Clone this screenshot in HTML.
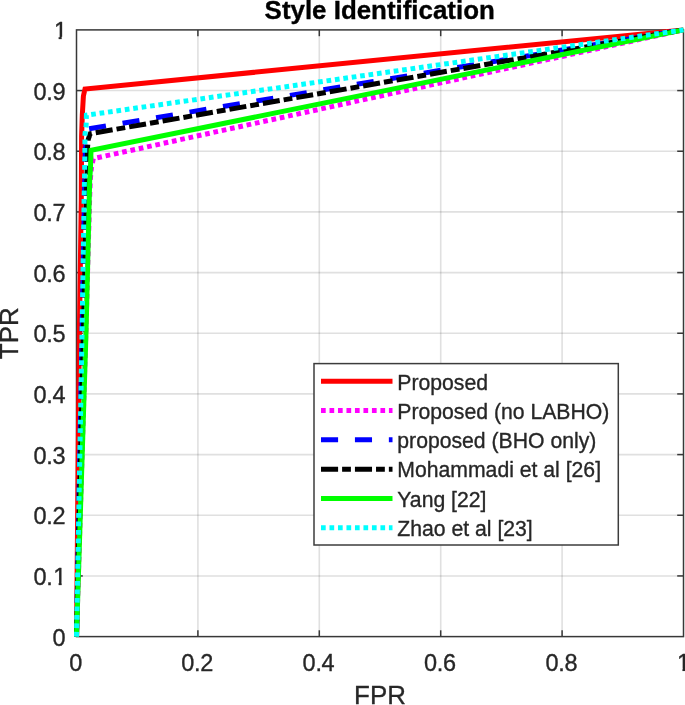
<!DOCTYPE html>
<html lang="en"><head><meta charset="utf-8"><title>Style Identification</title>
<style>html,body{margin:0;padding:0;background:#fff;overflow:hidden}svg{display:block}text{font-family:"Liberation Sans", Arial, Helvetica, sans-serif;fill:#262626;stroke:#2b2b2b;stroke-width:0.35px;stroke-linejoin:round}</style></head><body>
<svg width="685" height="705" viewBox="0 0 685 705">
<rect x="0" y="0" width="685" height="705" fill="#ffffff"/>
<g stroke="#262626" stroke-opacity="0.14" stroke-width="1.6" fill="none"><line x1="76.50" y1="575.93" x2="683.50" y2="575.93"/><line x1="76.50" y1="515.26" x2="683.50" y2="515.26"/><line x1="76.50" y1="454.59" x2="683.50" y2="454.59"/><line x1="76.50" y1="393.92" x2="683.50" y2="393.92"/><line x1="76.50" y1="333.25" x2="683.50" y2="333.25"/><line x1="76.50" y1="272.58" x2="683.50" y2="272.58"/><line x1="76.50" y1="211.91" x2="683.50" y2="211.91"/><line x1="76.50" y1="151.24" x2="683.50" y2="151.24"/><line x1="76.50" y1="90.57" x2="683.50" y2="90.57"/><line x1="197.90" y1="29.90" x2="197.90" y2="636.60"/><line x1="319.30" y1="29.90" x2="319.30" y2="636.60"/><line x1="440.70" y1="29.90" x2="440.70" y2="636.60"/><line x1="562.10" y1="29.90" x2="562.10" y2="636.60"/></g>
<g stroke="#383838" stroke-width="1.5" fill="none"><line x1="76.50" y1="575.93" x2="82.80" y2="575.93"/><line x1="683.50" y1="575.93" x2="677.20" y2="575.93"/><line x1="76.50" y1="515.26" x2="82.80" y2="515.26"/><line x1="683.50" y1="515.26" x2="677.20" y2="515.26"/><line x1="76.50" y1="454.59" x2="82.80" y2="454.59"/><line x1="683.50" y1="454.59" x2="677.20" y2="454.59"/><line x1="76.50" y1="393.92" x2="82.80" y2="393.92"/><line x1="683.50" y1="393.92" x2="677.20" y2="393.92"/><line x1="76.50" y1="333.25" x2="82.80" y2="333.25"/><line x1="683.50" y1="333.25" x2="677.20" y2="333.25"/><line x1="76.50" y1="272.58" x2="82.80" y2="272.58"/><line x1="683.50" y1="272.58" x2="677.20" y2="272.58"/><line x1="76.50" y1="211.91" x2="82.80" y2="211.91"/><line x1="683.50" y1="211.91" x2="677.20" y2="211.91"/><line x1="76.50" y1="151.24" x2="82.80" y2="151.24"/><line x1="683.50" y1="151.24" x2="677.20" y2="151.24"/><line x1="76.50" y1="90.57" x2="82.80" y2="90.57"/><line x1="683.50" y1="90.57" x2="677.20" y2="90.57"/><line x1="197.90" y1="636.60" x2="197.90" y2="630.30"/><line x1="197.90" y1="29.90" x2="197.90" y2="36.20"/><line x1="319.30" y1="636.60" x2="319.30" y2="630.30"/><line x1="319.30" y1="29.90" x2="319.30" y2="36.20"/><line x1="440.70" y1="636.60" x2="440.70" y2="630.30"/><line x1="440.70" y1="29.90" x2="440.70" y2="36.20"/><line x1="562.10" y1="636.60" x2="562.10" y2="630.30"/><line x1="562.10" y1="29.90" x2="562.10" y2="36.20"/><rect x="76.50" y="29.90" width="607.00" height="606.70"/></g>
<g fill="none" stroke-width="5.00" stroke-linejoin="miter" stroke-miterlimit="6" stroke-linecap="butt">
<path d="M76.50 636.60 L79.40 330.00 L81.30 200.00 L81.60 136.00 L82.30 115.00 L83.40 96.00 L85.00 89.00 L683.50 29.90" stroke="#ff0000"/>
<path d="M76.50 636.60 L85.90 330.00 L89.60 200.00 L90.30 179.70 L91.40 168.00 L93.30 158.60 L683.50 29.90" stroke="#ff00ff" stroke-dasharray="4.7 3.79" stroke-dashoffset="1.40"/>
<path d="M76.50 636.60 L85.40 150.00 L88.00 129.00 L683.50 29.90" stroke="#0000ff" stroke-dasharray="17.1 16.83" stroke-dashoffset="0.00"/>
<path d="M76.50 636.60 L87.60 146.50 L88.30 139.00 L90.30 133.70 L683.50 29.90" stroke="#000000" stroke-dasharray="17.1 4 8.8 4.03" stroke-dashoffset="0.00"/>
<path d="M76.50 636.60 L86.10 330.00 L89.70 179.70 L90.45 169.00 L91.00 150.40 L683.50 29.90" stroke="#00ff00"/>
<path d="M76.50 636.60 L82.10 330.00 L84.10 200.00 L84.75 165.00 L85.00 134.00 L86.10 125.50 L86.40 115.20 L683.50 29.90" stroke="#00ffff" stroke-dasharray="4.7 3.79" stroke-dashoffset="0.00"/>
</g>
<g font-size="23.50" letter-spacing="-0.3">
<text x="65.30" y="645.60" text-anchor="end">0</text>
<text x="66.00" y="584.93" text-anchor="end" clip-path="url(#cy1)">0.<tspan dx="0.70">1</tspan></text>
<text x="65.30" y="524.26" text-anchor="end">0.2</text>
<text x="65.30" y="463.59" text-anchor="end">0.3</text>
<text x="65.30" y="402.92" text-anchor="end">0.4</text>
<text x="65.30" y="342.25" text-anchor="end">0.5</text>
<text x="65.30" y="281.58" text-anchor="end">0.6</text>
<text x="65.30" y="220.91" text-anchor="end">0.7</text>
<text x="65.30" y="160.24" text-anchor="end">0.8</text>
<text x="65.30" y="99.57" text-anchor="end">0.9</text>
<text x="66.00" y="38.90" text-anchor="end" clip-path="url(#cy10)"><tspan dx="0.70">1</tspan></text>
<text x="75.70" y="670.70" text-anchor="middle">0</text>
<text x="197.10" y="670.70" text-anchor="middle">0.2</text>
<text x="318.50" y="670.70" text-anchor="middle">0.4</text>
<text x="439.90" y="670.70" text-anchor="middle">0.6</text>
<text x="561.30" y="670.70" text-anchor="middle">0.8</text>
<text x="683.40" y="670.70" text-anchor="middle" clip-path="url(#cx1)">1</text>
</g>
<text x="380.00" y="704.20" font-size="25.90" text-anchor="middle">FPR</text>
<text transform="translate(18.30 333.25) rotate(-90)" font-size="25.90" text-anchor="middle">TPR</text>
<text x="379.70" y="19.30" font-size="25.90" font-weight="bold" text-anchor="middle" style="fill:#000;stroke:#000">Style Identification</text>
<defs><clipPath id="cy1"><rect x="13.20" y="560.93" width="40.80" height="32.00"/><rect x="53.20" y="560.93" width="20.00" height="21.79"/><rect x="58.66" y="582.22" width="2.98" height="3.31"/></clipPath><clipPath id="cy10"><rect x="13.20" y="14.90" width="40.80" height="32.00"/><rect x="53.20" y="14.90" width="20.00" height="21.79"/><rect x="58.66" y="36.19" width="2.98" height="3.31"/></clipPath><clipPath id="cx1"><rect x="637.01" y="646.70" width="40.80" height="32.00"/><rect x="677.01" y="646.70" width="20.00" height="21.79"/><rect x="682.47" y="667.99" width="2.98" height="3.31"/></clipPath></defs>
<rect x="314.00" y="363.60" width="304.30" height="181.40" fill="#ffffff" stroke="#3c3c3c" stroke-width="1.5"/>
<g fill="none" stroke-width="5.00">
<line x1="321" y1="381.30" x2="392.5" y2="381.30" stroke="#ff0000"/>
<line x1="321" y1="410.58" x2="392.5" y2="410.58" stroke="#ff00ff" stroke-dasharray="4.7 3.79"/>
<line x1="321" y1="439.86" x2="392.5" y2="439.86" stroke="#0000ff" stroke-dasharray="17.1 16.83"/>
<line x1="321" y1="469.14" x2="392.5" y2="469.14" stroke="#000000" stroke-dasharray="17.1 4 8.8 4.03"/>
<line x1="321" y1="498.42" x2="392.5" y2="498.42" stroke="#00ff00"/>
<line x1="321" y1="527.70" x2="392.5" y2="527.70" stroke="#00ffff" stroke-dasharray="4.7 3.79"/>
</g>
<g font-size="21.20" style="fill:#000;stroke:#000">
<text x="397.3" y="389.50">Proposed</text>
<text x="397.3" y="418.78">Proposed (no LABHO)</text>
<text x="397.3" y="448.06">proposed (BHO only)</text>
<text x="397.3" y="477.34">Mohammadi et al [26]</text>
<text x="397.3" y="506.62">Yang [22]</text>
<text x="397.3" y="535.90">Zhao et al [23]</text>
</g>
</svg></body></html>
